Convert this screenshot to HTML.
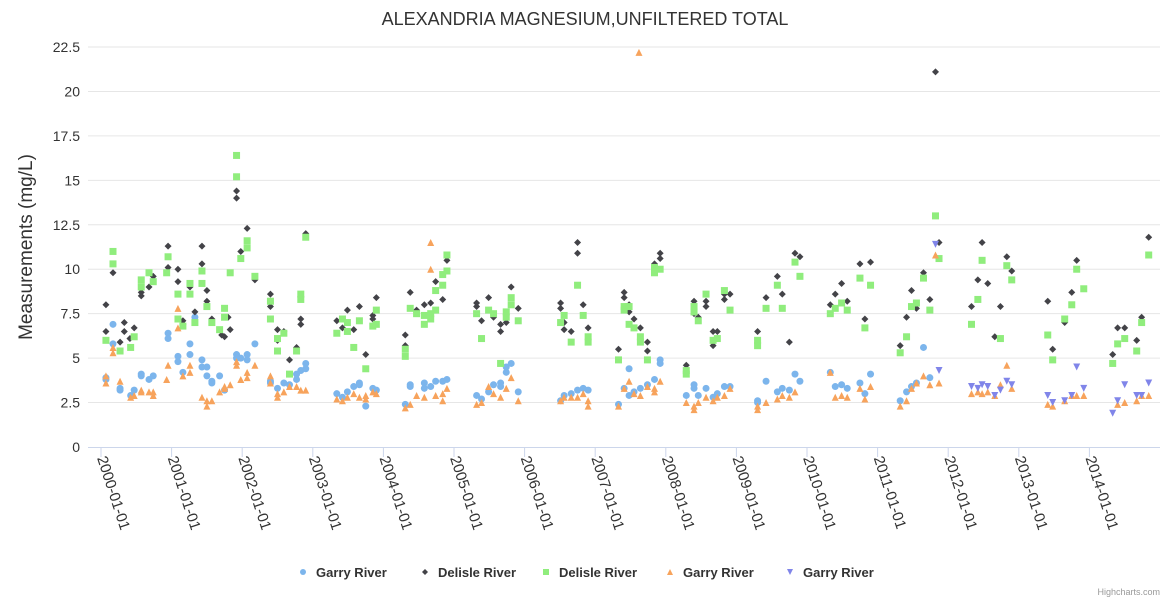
<!DOCTYPE html>
<html><head><meta charset="utf-8"><style>
body{margin:0;background:#fff}
svg text{font-family:"Liberation Sans","DejaVu Sans",sans-serif}
</style></head><body>
<svg id="chart" width="1170" height="600" xmlns="http://www.w3.org/2000/svg">
<text x="585" y="25" text-anchor="middle" font-size="18" fill="#333">ALEXANDRIA MAGNESIUM,UNFILTERED TOTAL</text>
<text transform="translate(32,247) rotate(-90)" text-anchor="middle" font-size="19" fill="#333">Measurements (mg/L)</text>
<g id="grid"></g><g id="xaxis"></g><g id="marks"></g><g id="legend"></g>
<text x="1160" y="595" text-anchor="end" font-size="9" fill="#999">Highcharts.com</text>
</svg>
<script>
const yTicks=[0,2.5,5,7.5,10,12.5,15,17.5,20,22.5];
const xTickYears=[2000,2001,2002,2003,2004,2005,2006,2007,2008,2009,2010,2011,2012,2013,2014];
const seriesNames=["Garry River","Delisle River","Delisle River","Garry River","Garry River"];
const seriesColors=["#7cb5ec","#434348","#90ed7d","#f7a35c","#8085e9"];
const seriesSymbols=["circle","diamond","square","triangle","triangle-down"];
const garryCircle=[[2000.07,3.9],[2000.07,3.8],[2000.17,6.9],[2000.17,5.8],[2000.27,3.3],[2000.27,3.2],[2000.42,2.9],[2000.47,3.2],[2000.57,4.1],[2000.57,4.0],[2000.68,3.8],[2000.74,4.0],[2000.95,6.4],[2000.95,6.1],[2001.09,5.1],[2001.09,4.8],[2001.16,4.2],[2001.26,5.8],[2001.26,5.2],[2001.33,7.3],[2001.43,4.9],[2001.43,4.5],[2001.5,4.5],[2001.5,4.0],[2001.57,3.7],[2001.57,3.6],[2001.68,4.0],[2001.75,3.2],[2001.92,5.2],[2001.92,5.0],[2001.98,5.0],[2002.07,5.2],[2002.07,4.9],[2002.18,5.8],[2002.4,3.7],[2002.4,3.6],[2002.5,3.3],[2002.59,3.6],[2002.67,3.5],[2002.77,4.1],[2002.77,3.8],[2002.83,4.3],[2002.9,4.7],[2002.9,4.4],[2003.34,3.0],[2003.42,2.8],[2003.49,3.1],[2003.58,3.4],[2003.66,3.6],[2003.66,3.5],[2003.75,2.3],[2003.85,3.3],[2003.9,3.2],[2004.31,2.4],[2004.38,3.5],[2004.38,3.4],[2004.58,3.6],[2004.58,3.3],[2004.67,3.4],[2004.74,3.7],[2004.84,3.7],[2004.9,3.8],[2005.32,2.9],[2005.39,2.7],[2005.49,3.1],[2005.56,3.5],[2005.66,3.6],[2005.66,3.4],[2005.74,4.2],[2005.74,4.5],[2005.81,4.7],[2005.91,3.1],[2006.51,2.6],[2006.56,2.9],[2006.66,3.0],[2006.75,3.2],[2006.83,3.3],[2006.9,3.2],[2007.33,2.4],[2007.41,3.3],[2007.48,4.4],[2007.48,2.9],[2007.55,3.1],[2007.64,3.3],[2007.74,3.5],[2007.84,3.8],[2007.92,4.9],[2007.92,4.7],[2008.29,2.9],[2008.4,3.5],[2008.4,3.3],[2008.46,2.9],[2008.57,3.3],[2008.67,2.8],[2008.73,3.0],[2008.83,3.4],[2008.91,3.4],[2009.3,2.6],[2009.3,2.5],[2009.42,3.7],[2009.58,3.1],[2009.65,3.3],[2009.75,3.2],[2009.83,4.1],[2009.9,3.7],[2010.33,4.2],[2010.4,3.4],[2010.49,3.5],[2010.57,3.3],[2010.75,3.6],[2010.82,3.0],[2010.9,4.1],[2011.32,2.6],[2011.41,3.1],[2011.48,3.4],[2011.55,3.6],[2011.65,5.6],[2011.74,3.9]];
const delisleDiamond=[[2000.07,8.0],[2000.07,6.5],[2000.17,9.8],[2000.27,5.9],[2000.33,7.0],[2000.33,6.5],[2000.41,6.1],[2000.47,6.7],[2000.57,8.7],[2000.57,8.5],[2000.68,9.0],[2000.74,9.6],[2000.95,11.3],[2000.95,10.1],[2001.09,10.0],[2001.09,9.3],[2001.16,7.1],[2001.16,6.9],[2001.26,9.0],[2001.33,7.6],[2001.43,11.3],[2001.43,10.3],[2001.5,8.8],[2001.5,8.2],[2001.57,7.2],[2001.71,6.3],[2001.75,6.2],[2001.8,7.3],[2001.83,6.6],[2001.92,14.4],[2001.92,14.0],[2001.98,11.0],[2002.07,12.3],[2002.18,9.4],[2002.4,8.6],[2002.4,7.9],[2002.5,6.6],[2002.5,6.0],[2002.59,6.5],[2002.67,4.9],[2002.77,5.6],[2002.83,7.2],[2002.83,6.9],[2002.9,12.0],[2003.34,7.1],[2003.42,6.7],[2003.49,7.7],[2003.58,6.6],[2003.66,7.9],[2003.75,5.2],[2003.85,7.4],[2003.85,7.2],[2003.9,8.4],[2004.31,6.3],[2004.31,5.7],[2004.38,8.7],[2004.47,7.7],[2004.58,8.0],[2004.67,8.1],[2004.74,9.3],[2004.84,8.3],[2004.9,10.5],[2005.32,8.1],[2005.32,7.9],[2005.39,7.1],[2005.49,8.4],[2005.56,7.3],[2005.66,6.9],[2005.66,6.5],[2005.74,7.0],[2005.81,9.0],[2005.91,7.8],[2006.51,8.1],[2006.51,7.8],[2006.56,7.0],[2006.56,6.6],[2006.66,6.5],[2006.75,11.5],[2006.75,10.9],[2006.83,8.0],[2006.9,6.7],[2007.33,5.5],[2007.41,8.7],[2007.41,8.4],[2007.48,8.0],[2007.48,7.6],[2007.55,7.2],[2007.64,6.7],[2007.74,5.9],[2007.74,5.4],[2007.84,10.3],[2007.92,10.9],[2007.92,10.6],[2008.29,4.6],[2008.4,8.2],[2008.4,7.5],[2008.46,7.3],[2008.57,8.2],[2008.57,7.9],[2008.67,6.5],[2008.67,5.7],[2008.73,6.5],[2008.83,8.6],[2008.83,8.3],[2008.91,8.6],[2009.3,6.5],[2009.42,8.4],[2009.58,9.6],[2009.65,8.6],[2009.75,5.9],[2009.83,10.9],[2009.9,10.7],[2010.33,8.0],[2010.4,8.6],[2010.49,9.2],[2010.57,8.2],[2010.75,10.3],[2010.82,7.2],[2010.9,10.4],[2011.32,5.7],[2011.41,7.3],[2011.48,8.8],[2011.55,7.8],[2011.65,9.8],[2011.74,8.3],[2011.82,21.1],[2011.87,11.5],[2012.33,7.9],[2012.42,9.4],[2012.48,11.5],[2012.56,9.2],[2012.66,6.2],[2012.74,7.9],[2012.83,10.7],[2012.9,9.9],[2013.41,8.2],[2013.48,5.5],[2013.65,7.0],[2013.75,8.7],[2013.82,10.5],[2014.33,5.2],[2014.4,6.7],[2014.5,6.7],[2014.67,6.0],[2014.74,7.3],[2014.84,11.8]];
const delisleSquare=[[2000.07,6.0],[2000.17,11.0],[2000.17,10.3],[2000.27,5.4],[2000.42,5.6],[2000.47,6.2],[2000.57,9.4],[2000.57,9.0],[2000.68,9.8],[2000.74,9.3],[2000.93,9.8],[2000.95,10.7],[2001.09,8.6],[2001.09,7.2],[2001.16,6.8],[2001.26,9.2],[2001.26,8.6],[2001.33,7.0],[2001.43,9.9],[2001.43,9.2],[2001.5,7.9],[2001.57,7.0],[2001.68,6.6],[2001.75,7.8],[2001.75,7.3],[2001.83,9.8],[2001.92,16.4],[2001.92,15.2],[2001.98,10.6],[2002.07,11.6],[2002.07,11.2],[2002.18,9.6],[2002.4,8.2],[2002.4,7.2],[2002.5,6.1],[2002.5,5.4],[2002.59,6.4],[2002.67,4.1],[2002.77,5.4],[2002.83,8.6],[2002.83,8.3],[2002.9,11.8],[2003.34,6.4],[2003.42,7.2],[2003.49,6.5],[2003.49,7.0],[2003.58,5.6],[2003.66,7.1],[2003.75,4.4],[2003.85,6.8],[2003.9,7.7],[2003.9,6.9],[2004.31,5.5],[2004.31,5.1],[2004.38,7.8],[2004.47,7.5],[2004.58,6.9],[2004.58,7.4],[2004.67,7.5],[2004.67,7.2],[2004.74,8.8],[2004.74,7.7],[2004.84,9.7],[2004.84,9.1],[2004.9,10.8],[2004.9,9.9],[2005.32,7.5],[2005.39,6.1],[2005.49,7.7],[2005.56,7.5],[2005.66,4.7],[2005.74,7.6],[2005.74,7.3],[2005.81,8.4],[2005.81,8.0],[2005.91,7.1],[2006.51,7.0],[2006.56,7.4],[2006.66,5.9],[2006.75,9.1],[2006.83,7.4],[2006.9,6.2],[2006.9,5.9],[2007.33,4.9],[2007.41,7.9],[2007.41,7.7],[2007.48,7.9],[2007.48,6.9],[2007.55,6.7],[2007.64,6.2],[2007.64,5.9],[2007.74,4.9],[2007.84,9.8],[2007.84,10.1],[2007.92,10.0],[2008.29,4.1],[2008.29,4.3],[2008.4,7.9],[2008.4,7.6],[2008.46,7.1],[2008.57,8.6],[2008.67,6.0],[2008.73,6.1],[2008.83,8.8],[2008.91,7.7],[2009.3,6.0],[2009.3,5.7],[2009.42,7.8],[2009.58,9.1],[2009.65,7.8],[2009.83,10.4],[2009.9,9.6],[2010.33,7.5],[2010.4,7.8],[2010.49,8.1],[2010.57,7.7],[2010.75,9.5],[2010.82,6.7],[2010.9,9.1],[2011.32,5.3],[2011.41,6.2],[2011.48,7.9],[2011.55,8.1],[2011.65,9.5],[2011.74,7.7],[2011.82,13.0],[2011.87,10.6],[2012.33,6.9],[2012.42,8.3],[2012.48,10.5],[2012.74,6.1],[2012.83,10.2],[2012.9,9.4],[2013.41,6.3],[2013.48,4.9],[2013.65,7.2],[2013.75,8.0],[2013.82,10.0],[2013.92,8.9],[2014.33,4.7],[2014.4,5.8],[2014.5,6.1],[2014.67,5.4],[2014.74,7.0],[2014.84,10.8]];
const garryTriangle=[[2000.07,4.0],[2000.07,3.6],[2000.17,5.6],[2000.17,5.3],[2000.27,3.7],[2000.42,2.8],[2000.47,2.9],[2000.57,3.2],[2000.57,3.1],[2000.68,3.1],[2000.74,2.9],[2000.74,3.1],[2000.93,3.8],[2000.95,4.6],[2001.09,7.8],[2001.09,6.7],[2001.16,4.0],[2001.26,4.6],[2001.26,4.2],[2001.43,2.8],[2001.5,2.6],[2001.5,2.3],[2001.57,2.6],[2001.68,3.1],[2001.75,3.4],[2001.75,3.3],[2001.83,3.5],[2001.92,4.8],[2001.92,4.6],[2001.98,3.8],[2002.07,4.2],[2002.07,3.9],[2002.18,4.6],[2002.4,4.0],[2002.4,3.6],[2002.5,3.0],[2002.5,2.8],[2002.59,3.1],[2002.67,3.4],[2002.77,3.4],[2002.83,3.2],[2002.9,3.2],[2003.34,2.7],[2003.42,2.6],[2003.49,2.8],[2003.58,3.0],[2003.66,2.8],[2003.75,2.9],[2003.75,2.7],[2003.85,3.1],[2003.9,3.0],[2004.31,2.2],[2004.38,2.4],[2004.47,2.9],[2004.58,2.8],[2004.67,11.5],[2004.67,10.0],[2004.74,2.9],[2004.84,2.6],[2004.84,3.0],[2004.9,3.3],[2005.32,2.4],[2005.39,2.5],[2005.49,3.4],[2005.56,3.0],[2005.66,2.8],[2005.74,3.3],[2005.81,3.9],[2005.91,2.6],[2006.51,2.6],[2006.56,2.8],[2006.66,2.8],[2006.75,2.8],[2006.83,3.0],[2006.9,2.6],[2006.9,2.3],[2007.33,2.3],[2007.41,3.3],[2007.48,3.7],[2007.55,3.0],[2007.62,22.2],[2007.64,2.9],[2007.74,3.4],[2007.84,3.3],[2007.84,3.1],[2007.92,3.7],[2008.29,2.5],[2008.4,2.3],[2008.4,2.1],[2008.46,2.5],[2008.57,2.8],[2008.67,2.6],[2008.73,2.8],[2008.83,2.9],[2008.91,3.3],[2009.3,2.1],[2009.3,2.3],[2009.42,2.5],[2009.58,2.7],[2009.65,2.9],[2009.75,2.8],[2009.83,3.1],[2010.33,4.2],[2010.4,2.8],[2010.49,2.9],[2010.57,2.8],[2010.75,3.3],[2010.82,2.7],[2010.9,3.4],[2011.32,2.3],[2011.41,2.6],[2011.48,3.3],[2011.55,3.6],[2011.65,4.0],[2011.74,3.5],[2011.82,10.8],[2011.87,3.6],[2012.33,3.0],[2012.42,3.1],[2012.48,3.0],[2012.56,3.1],[2012.66,2.9],[2012.74,3.5],[2012.83,4.6],[2012.9,3.3],[2013.41,2.4],[2013.48,2.3],[2013.65,2.6],[2013.75,2.9],[2013.82,2.9],[2013.92,2.9],[2014.4,2.4],[2014.5,2.5],[2014.67,2.6],[2014.74,2.9],[2014.84,2.9]];
const garryTriangleDown=[[2011.82,11.4],[2011.87,4.3],[2012.33,3.4],[2012.42,3.3],[2012.48,3.5],[2012.56,3.4],[2012.66,2.9],[2012.74,3.2],[2012.83,3.7],[2012.9,3.5],[2013.41,2.9],[2013.48,2.5],[2013.65,2.6],[2013.75,2.9],[2013.82,4.5],[2013.92,3.3],[2014.33,1.9],[2014.4,2.6],[2014.5,3.5],[2014.67,2.9],[2014.74,2.9],[2014.84,3.6]];
const allSeries=[garryCircle,delisleDiamond,delisleSquare,garryTriangle,garryTriangleDown];

const NS="http://www.w3.org/2000/svg";
const PL=88,PR=1160,PT=47,PB=447;
function xScale(yr){return 101+(yr-2000)*70.6;}
function yScale(v){return PB-(v/22.5)*(PB-PT);}
function mk(tag,attrs,parent){const e=document.createElementNS(NS,tag);for(const k in attrs)e.setAttribute(k,attrs[k]);parent.appendChild(e);return e;}
function symbol(kind,cx,cy,color,parent,s){
  s=s||4;let e;
  if(kind==="circle")e=mk("circle",{cx:cx,cy:cy,r:s,fill:color},parent);
  else if(kind==="square")e=mk("rect",{x:cx-s,y:cy-s,width:2*s,height:2*s,fill:color},parent);
  else if(kind==="diamond")e=mk("path",{d:`M${cx},${cy-s}L${cx+s},${cy}L${cx},${cy+s}L${cx-s},${cy}Z`,fill:color},parent);
  else if(kind==="triangle")e=mk("path",{d:`M${cx},${cy-s}L${cx+s},${cy+s}L${cx-s},${cy+s}Z`,fill:color},parent);
  else e=mk("path",{d:`M${cx-s},${cy-s}L${cx+s},${cy-s}L${cx},${cy+s}Z`,fill:color},parent);
  return e;
}
const grid=document.getElementById("grid");
yTicks.forEach(t=>{
  const y=yScale(t);
  if(t>0){const l=mk("line",{x1:PL,x2:PR,y1:y,y2:y,stroke:"#e6e6e6"},grid);
  
  }
  const tx=mk("text",{x:80,y:y+5,"text-anchor":"end","font-size":"14",fill:"#333"},grid);
  tx.textContent=String(t);
  
  
});
const xa=document.getElementById("xaxis");
const axl=mk("line",{x1:PL,x2:PR,y1:PB+0.5,y2:PB+0.5,stroke:"#ccd6eb"},xa);


xTickYears.forEach(yr=>{
  const x=xScale(yr);
  const tk=mk("line",{x1:x,x2:x,y1:PB,y2:PB+10,stroke:"#ccd6eb"},xa);
  
  
  const t=mk("text",{transform:`translate(${x-4},${PB+11}) rotate(72)`,"font-size":"15",fill:"#333"},xa);
  t.textContent=yr+"-01-01";
  
  
});
const marks=document.getElementById("marks");
allSeries.forEach((data,si)=>{
  const g=mk("g",{},marks);
  
  
  data.forEach(p=>{
    const e=symbol(seriesSymbols[si],xScale(p[0]),yScale(p[1]),seriesColors[si],g,3.5);
    
    
  });
});
const lg=document.getElementById("legend");
const legX=[303,425,546,670,790];
seriesNames.forEach((n,i)=>{
  const g=mk("g",{},lg);
  
  
  symbol(seriesSymbols[i],legX[i],572,seriesColors[i],g,3);
  const t=mk("text",{x:legX[i]+13,y:577,"font-size":"13","font-weight":"bold",fill:"#333"},g);
  t.textContent=n;
});
</script>
</body></html>
